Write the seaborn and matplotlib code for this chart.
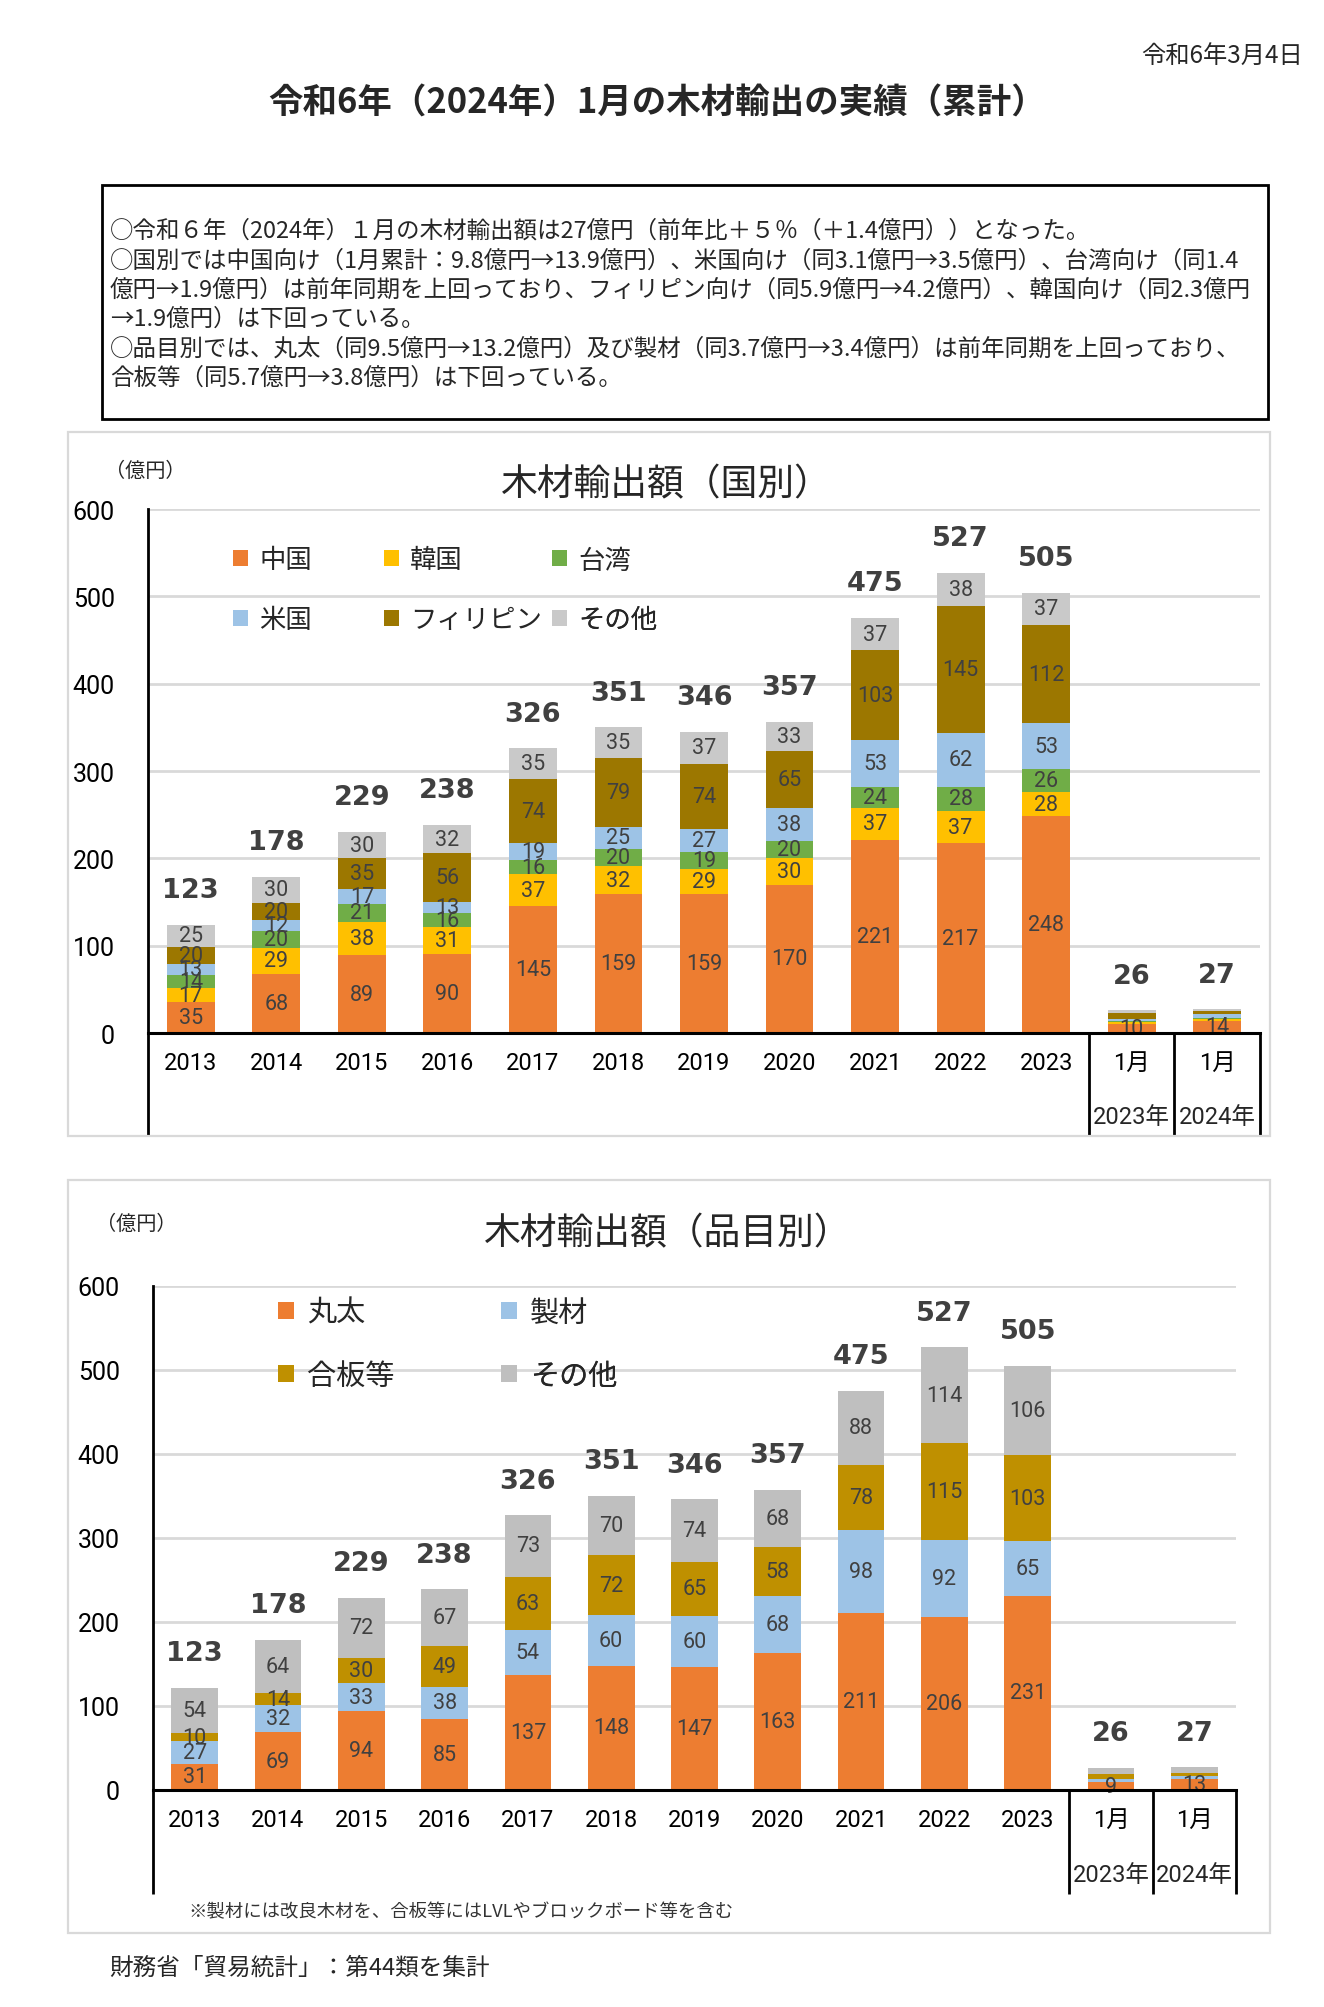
import numpy as np
import pandas as pd
import matplotlib
matplotlib.use("Agg")
import matplotlib.pyplot as plt
import matplotlib.transforms as mtransforms
from matplotlib.patches import Patch, Rectangle
import seaborn as sns

# ---------------- data ----------------
cat_keys = ["2013", "2014", "2015", "2016", "2017", "2018", "2019", "2020",
            "2021", "2022", "2023", "2023-01", "2024-01"]
cat_labels = ["2013", "2014", "2015", "2016", "2017", "2018", "2019", "2020",
              "2021", "2022", "2023", "1月", "1月"]
period_labels = ["2023年", "2024年"]

country_names = ["中国", "韓国", "台湾", "米国", "フィリピン", "その他"]
china = [35, 68, 89, 90, 145, 159, 159, 170, 221, 217, 248, 9.8, 13.9]
korea = [17, 29, 38, 31, 37, 32, 29, 30, 37, 37, 28, 2.3, 1.9]
taiwan = [14, 20, 21, 16, 16, 20, 19, 20, 24, 28, 26, 1.4, 1.9]
usa = [13, 12, 17, 13, 19, 25, 27, 38, 53, 62, 53, 3.1, 3.5]
philippines = [20, 20, 35, 56, 74, 79, 74, 65, 103, 145, 112, 5.9, 4.2]
other_country = [25, 30, 30, 32, 35, 35, 37, 33, 37, 38, 37, 3.5, 1.6]
country_totals = [123, 178, 229, 238, 326, 351, 346, 357, 475, 527, 505, 26, 27]
country_colors = ["#ED7D31", "#FFC000", "#70AD47", "#9DC3E6", "#9C7700", "#C9C9C9"]

item_names = ["丸太", "製材", "合板等", "その他"]
logs = [31, 69, 94, 85, 137, 148, 147, 163, 211, 206, 231, 9.46, 13.2]
lumber = [27, 32, 33, 38, 54, 60, 60, 68, 98, 92, 65, 3.7, 3.4]
plywood = [10, 14, 30, 49, 63, 72, 65, 58, 78, 115, 103, 5.7, 3.8]
other_item = [54, 64, 72, 67, 73, 70, 74, 68, 88, 114, 106, 7.1, 6.6]
item_totals = [123, 178, 229, 238, 326, 351, 346, 357, 475, 527, 505, 26, 27]
item_colors = ["#ED7D31", "#9DC3E6", "#BF9000", "#BFBFBF"]

yticks = [0, 100, 200, 300, 400, 500, 600]

# ---------------- style ----------------
sns.set_theme(style="white")
plt.rcParams["font.family"] = ["Noto Sans CJK JP", "DejaVu Sans"]
CJK = ["Noto Sans CJK JP", "DejaVu Sans"]
NUM = ["Roboto", "Noto Sans CJK JP"]
LABEL_C = "#404040"

W, H = 1324, 2008
fig = plt.figure(figsize=(W / 100, H / 100), dpi=100)
fig.patch.set_facecolor("white")


def fx(x):
    return x / W


def fy(y):
    return 1 - y / H


def frect(x0, y0, x1, y1, **kw):
    fig.add_artist(Rectangle((fx(x0), fy(y1)), (x1 - x0) / W, (y1 - y0) / H,
                             transform=fig.transFigure, fill=False, **kw))


# ---------------- header ----------------
fig.text(fx(1303), fy(57), "令和6年3月4日", ha="right", va="center", fontsize=17.5, family=CJK)
fig.text(fx(657), fy(103), "令和6年（2024年）1月の木材輸出の実績（累計）", ha="center", va="center",
         fontsize=24.8, fontweight="bold", family=CJK)

frect(102, 186, 1268, 420, edgecolor="black", lw=2)
box_lines = [
    "○令和６年（2024年）１月の木材輸出額は27億円（前年比＋５％（＋1.4億円））となった。",
    "○国別では中国向け（1月累計：9.8億円→13.9億円）、米国向け（同3.1億円→3.5億円）、台湾向け（同1.4",
    "億円→1.9億円）は前年同期を上回っており、フィリピン向け（同5.9億円→4.2億円）、韓国向け（同2.3億円",
    "→1.9億円）は下回っている。",
    "○品目別では、丸太（同9.5億円→13.2億円）及び製材（同3.7億円→3.4億円）は前年同期を上回っており、",
    "合板等（同5.7億円→3.8億円）は下回っている。",
]
for k, ln in enumerate(box_lines):
    fig.text(fx(110), fy(231.5 + k * 29.3), ln, ha="left", va="center", fontsize=16.9, family=CJK)


# ---------------- chart helper ----------------
def stacked_chart(ax, series, colors, totals, ext, period_y):
    df = pd.DataFrame(np.array(series).T, index=cat_keys)
    cum = df.cumsum(axis=1)
    ncol = df.shape[1]
    for j in reversed(range(ncol)):
        sns.barplot(x=cat_keys, y=cum[j].values, order=cat_keys, color=colors[j],
                    width=0.56, saturation=1, errorbar=None, linewidth=0, ax=ax)
    # segment labels
    for i in range(len(cat_keys)):
        base = 0
        for j in range(ncol):
            v = df.iloc[i, j]
            if v >= 8:
                ax.text(i, base + v / 2, f"{v:.0f}", ha="center", va="center",
                        fontsize=15.5, color=LABEL_C, family=NUM, zorder=5)
            base += v
        ax.annotate(f"{totals[i]}", xy=(i, cum.iloc[i, -1]), xytext=(0, 25),
                    textcoords="offset points", ha="center", va="center",
                    fontsize=19.5, fontweight="bold", color=LABEL_C, family="DejaVu Sans")
    ax.set_xlim(-0.5, len(cat_keys) - 0.5)
    ax.set_ylim(0, 600)
    ax.set_yticks(yticks)
    ax.set_yticklabels([str(t) for t in yticks], family=NUM, fontsize=18)
    ax.set_xticks(range(len(cat_keys)))
    ax.set_xticklabels(cat_labels, family=NUM, fontsize=17)
    ax.tick_params(axis="x", length=0, pad=13, colors="black")
    ax.tick_params(axis="y", length=0, pad=24, colors="black")
    ax.yaxis.grid(True, color="#D9D9D9", lw=2)
    ax.xaxis.grid(False)
    ax.set_axisbelow(True)
    ax.set_xlabel("")
    ax.set_ylabel("")
    for s in ["top", "right"]:
        ax.spines[s].set_visible(False)
    ax.spines["left"].set_color("black")
    ax.spines["left"].set_linewidth(2)
    ax.spines["bottom"].set_color("black")
    ax.spines["bottom"].set_linewidth(2.2)
    ax.spines["bottom"].set_zorder(6)
    trans = mtransforms.blended_transform_factory(ax.transData, ax.transAxes)
    for xv in [-0.5, 10.5, 11.5, 12.5]:
        ax.plot([xv, xv], [0, -ext], transform=trans, color="black", lw=2, clip_on=False,
                solid_capstyle="butt")
    for k, lab in enumerate(period_labels):
        ax.text(11 + k, period_y, lab, transform=trans, ha="center", va="center",
                fontsize=17, family=NUM)


def legend_item(ax, label, color, x, y, size=19):
    leg = ax.legend(handles=[Patch(facecolor=color, edgecolor="none", label=label)],
                    loc="center left", bbox_to_anchor=(fx(x), fy(y)),
                    bbox_transform=fig.transFigure, frameon=False,
                    handlelength=0.55, handleheight=0.55, handletextpad=0.45,
                    borderpad=0, borderaxespad=0, prop={"family": CJK, "size": size})
    ax.add_artist(leg)


# ---------------- chart 1 ----------------
frect(68, 433, 1270, 1137, edgecolor="#D9D9D9", lw=1.6)
ax1 = fig.add_axes([fx(148), fy(1034), (1260 - 148) / W, (1034 - 510) / H])
stacked_chart(ax1, [china, korea, taiwan, usa, philippines, other_country],
              country_colors, country_totals, ext=(1137 - 1034) / (1034 - 510),
              period_y=-(1118 - 1034) / (1034 - 510))
fig.text(fx(145), fy(471), "（億円）", ha="center", va="center", fontsize=14.5, family=CJK)
fig.text(fx(666), fy(485), "木材輸出額（国別）", ha="center", va="center", fontsize=26.5, family=CJK)
leg_pos1 = [(233, 561), (384, 561), (552, 561), (233, 621), (384, 621), (552, 621)]
for (x, y), j in zip(leg_pos1, range(6)):
    legend_item(ax1, country_names[j], country_colors[j], x, y, size=19)

# ---------------- chart 2 ----------------
frect(68, 1181, 1270, 1934, edgecolor="#D9D9D9", lw=1.6)
ax2 = fig.add_axes([fx(153), fy(1791), (1236 - 153) / W, (1791 - 1287) / H])
stacked_chart(ax2, [logs, lumber, plywood, other_item], item_colors, item_totals,
              ext=(1895 - 1791) / (1791 - 1287), period_y=-(1876 - 1791) / (1791 - 1287))
fig.text(fx(136), fy(1224), "（億円）", ha="center", va="center", fontsize=14.5, family=CJK)
fig.text(fx(668), fy(1234), "木材輸出額（品目別）", ha="center", va="center", fontsize=26.5, family=CJK)
leg_pos2 = [(278, 1314), (501, 1314), (278, 1377), (501, 1377)]
for (x, y), j in zip(leg_pos2, range(4)):
    legend_item(ax2, item_names[j], item_colors[j], x, y, size=21)

fig.text(fx(188), fy(1912), "※製材には改良木材を、合板等にはLVLやブロックボード等を含む",
         ha="left", va="center", fontsize=13.2, color="#333333", family=CJK)
fig.text(fx(109), fy(1968), "財務省「貿易統計」：第44類を集計", ha="left", va="center",
         fontsize=17, family=CJK)

fig.savefig("out.png", dpi=100, facecolor="white")
